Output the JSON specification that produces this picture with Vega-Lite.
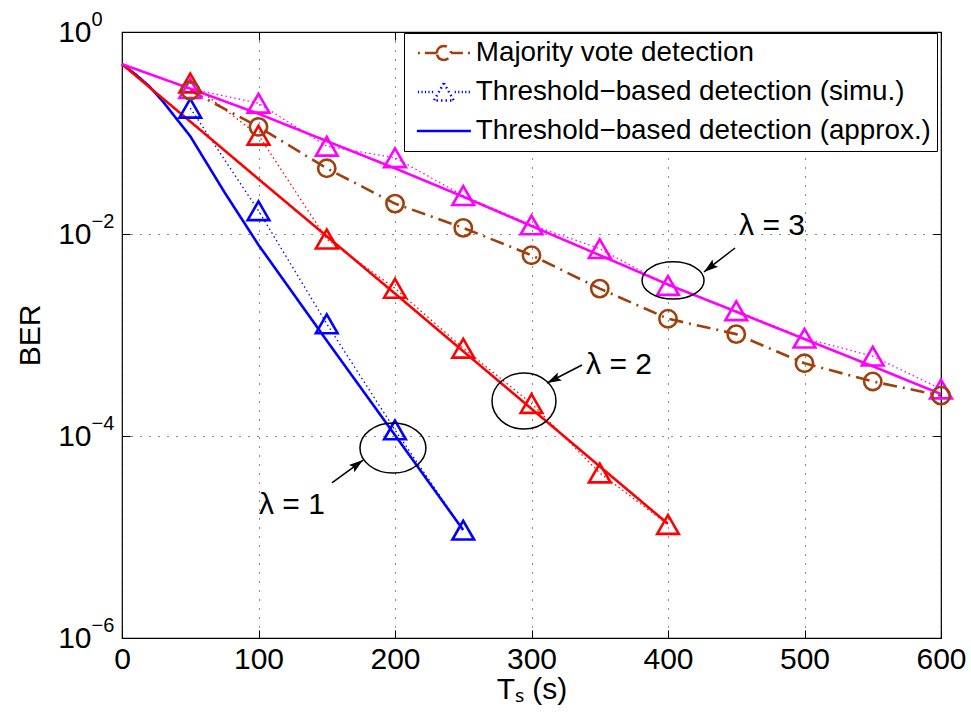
{
  "$schema": "https://vega.github.io/schema/vega-lite/v6.json",
  "width": 819,
  "height": 606,
  "autosize": "none",
  "padding": {"left": 122, "top": 32, "right": 30, "bottom": 86},
  "background": "white",
  "config": {
    "font": "Liberation Sans",
    "view": {"stroke": "black", "strokeWidth": 1.2},
    "text": {"font": "Liberation Sans"}
  },
  "datasets": {
    "curves": [
      {"T": 50, "ber": 0.263, "lam": "maj", "method": "maj"},
      {"T": 100, "ber": 0.115, "lam": "maj", "method": "maj"},
      {"T": 150, "ber": 0.0447, "lam": "maj", "method": "maj"},
      {"T": 200, "ber": 0.02, "lam": "maj", "method": "maj"},
      {"T": 250, "ber": 0.0115, "lam": "maj", "method": "maj"},
      {"T": 300, "ber": 0.00617, "lam": "maj", "method": "maj"},
      {"T": 350, "ber": 0.00288, "lam": "maj", "method": "maj"},
      {"T": 400, "ber": 0.00145, "lam": "maj", "method": "maj"},
      {"T": 450, "ber": 0.00102, "lam": "maj", "method": "maj"},
      {"T": 500, "ber": 0.000525, "lam": "maj", "method": "maj"},
      {"T": 550, "ber": 0.000347, "lam": "maj", "method": "maj"},
      {"T": 600, "ber": 0.000251, "lam": "maj", "method": "maj"},

      {"T": 50, "ber": 0.176, "lam": "1", "method": "simu"},
      {"T": 100, "ber": 0.017, "lam": "1", "method": "simu"},
      {"T": 150, "ber": 0.00129, "lam": "1", "method": "simu"},
      {"T": 200, "ber": 0.000115, "lam": "1", "method": "simu"},
      {"T": 250, "ber": 0.0000117, "lam": "1", "method": "simu"},

      {"T": 50, "ber": 0.313, "lam": "2", "method": "simu"},
      {"T": 100, "ber": 0.095, "lam": "2", "method": "simu"},
      {"T": 150, "ber": 0.0089, "lam": "2", "method": "simu"},
      {"T": 200, "ber": 0.0029, "lam": "2", "method": "simu"},
      {"T": 250, "ber": 0.00074, "lam": "2", "method": "simu"},
      {"T": 300, "ber": 0.00021, "lam": "2", "method": "simu"},
      {"T": 350, "ber": 0.000043, "lam": "2", "method": "simu"},
      {"T": 400, "ber": 0.0000133, "lam": "2", "method": "simu"},

      {"T": 50, "ber": 0.275, "lam": "3", "method": "simu"},
      {"T": 100, "ber": 0.197, "lam": "3", "method": "simu"},
      {"T": 150, "ber": 0.074, "lam": "3", "method": "simu"},
      {"T": 200, "ber": 0.0569, "lam": "3", "method": "simu"},
      {"T": 250, "ber": 0.024, "lam": "3", "method": "simu"},
      {"T": 300, "ber": 0.0123, "lam": "3", "method": "simu"},
      {"T": 350, "ber": 0.00716, "lam": "3", "method": "simu"},
      {"T": 400, "ber": 0.00309, "lam": "3", "method": "simu"},
      {"T": 450, "ber": 0.00174, "lam": "3", "method": "simu"},
      {"T": 500, "ber": 0.00093, "lam": "3", "method": "simu"},
      {"T": 550, "ber": 0.000617, "lam": "3", "method": "simu"},
      {"T": 600, "ber": 0.000292, "lam": "3", "method": "simu"},

      {"T": 0, "ber": 0.48, "lam": "1", "method": "approx"},
      {"T": 10, "ber": 0.38, "lam": "1", "method": "approx"},
      {"T": 20, "ber": 0.29, "lam": "1", "method": "approx"},
      {"T": 30, "ber": 0.205, "lam": "1", "method": "approx"},
      {"T": 40, "ber": 0.138, "lam": "1", "method": "approx"},
      {"T": 50, "ber": 0.093, "lam": "1", "method": "approx"},
      {"T": 75, "ber": 0.026, "lam": "1", "method": "approx"},
      {"T": 100, "ber": 0.0078, "lam": "1", "method": "approx"},
      {"T": 150, "ber": 0.00088, "lam": "1", "method": "approx"},
      {"T": 200, "ber": 0.000102, "lam": "1", "method": "approx"},
      {"T": 250, "ber": 0.0000117, "lam": "1", "method": "approx"},

      {"T": 0, "ber": 0.48, "lam": "2", "method": "approx"},
      {"T": 50, "ber": 0.13, "lam": "2", "method": "approx"},
      {"T": 100, "ber": 0.035, "lam": "2", "method": "approx"},
      {"T": 150, "ber": 0.0095, "lam": "2", "method": "approx"},
      {"T": 200, "ber": 0.00257, "lam": "2", "method": "approx"},
      {"T": 250, "ber": 0.00069, "lam": "2", "method": "approx"},
      {"T": 300, "ber": 0.000186, "lam": "2", "method": "approx"},
      {"T": 350, "ber": 0.00005, "lam": "2", "method": "approx"},
      {"T": 400, "ber": 0.0000135, "lam": "2", "method": "approx"},

      {"T": 0, "ber": 0.48, "lam": "3", "method": "approx"},
      {"T": 50, "ber": 0.275, "lam": "3", "method": "approx"},
      {"T": 100, "ber": 0.155, "lam": "3", "method": "approx"},
      {"T": 150, "ber": 0.0832, "lam": "3", "method": "approx"},
      {"T": 200, "ber": 0.0447, "lam": "3", "method": "approx"},
      {"T": 250, "ber": 0.0234, "lam": "3", "method": "approx"},
      {"T": 300, "ber": 0.012, "lam": "3", "method": "approx"},
      {"T": 350, "ber": 0.00617, "lam": "3", "method": "approx"},
      {"T": 400, "ber": 0.00316, "lam": "3", "method": "approx"},
      {"T": 450, "ber": 0.0017, "lam": "3", "method": "approx"},
      {"T": 500, "ber": 0.000912, "lam": "3", "method": "approx"},
      {"T": 550, "ber": 0.00049, "lam": "3", "method": "approx"},
      {"T": 600, "ber": 0.00026, "lam": "3", "method": "approx"}
    ],
    "rings": [
      {"T": 198.5, "ber": 0.000076, "lam": "1"},
      {"T": 294.5, "ber": 0.000222, "lam": "2"},
      {"T": 403.7, "ber": 0.00347, "lam": "3"}
    ],
    "arrows": [
      {"T": 153.8, "ber": 0.0000343, "T2": 176.6, "ber2": 0.0000578, "lam": "1"},
      {"T": 337.0, "ber": 0.000505, "T2": 311.4, "ber2": 0.000335, "lam": "2"},
      {"T": 449.1, "ber": 0.00727, "T2": 426.4, "ber2": 0.00421, "lam": "3"}
    ],
    "notes": [
      {"T": 124.5, "ber": 0.0000207, "label": "λ = 1"},
      {"T": 364.1, "ber": 0.000505, "label": "λ = 2"},
      {"T": 476.2, "ber": 0.012, "label": "λ = 3"}
    ]
  },
  "resolve": {"axis": {"x": "independent", "y": "independent"}},
  "layer": [
    {
      "data": {"name": "curves"},
      "mark": {"type": "line", "strokeCap": "butt", "strokeJoin": "round"},
      "encoding": {
        "x": {
          "field": "T", "type": "quantitative",
          "scale": {"domain": [0, 600], "nice": false, "zero": false},
          "axis": {
            "orient": "bottom", "values": [0, 100, 200, 300, 400, 500, 600],
            "grid": true, "gridColor": "#000", "gridDash": [1, 8], "gridWidth": 1, "gridOpacity": 0.9,
            "domain": false, "ticks": true, "tickSize": -8, "tickColor": "#000", "tickWidth": 1,
            "labelFontSize": 30, "labelColor": "#000", "labelPadding": 14, "labelFlush": false, "labelOverlap": false,
            "title": "Tₛ (s)", "titleFontSize": 30, "titleFontWeight": "normal", "titleColor": "#000", "titlePadding": 0
          }
        },
        "y": {
          "field": "ber", "type": "quantitative",
          "scale": {"type": "log", "domain": [0.000001, 1], "nice": false},
          "axis": {
            "orient": "left", "values": [1, 0.01, 0.0001, 0.000001],
            "grid": true, "gridColor": "#000", "gridDash": [1, 8], "gridWidth": 1, "gridOpacity": 0.9,
            "domain": false, "ticks": true, "tickSize": -8, "tickColor": "#000", "tickWidth": 1,
            "labelExpr": "'10'",
            "labelFontSize": 30, "labelColor": "#000", "labelPadding": 39, "labelAlign": "right", "labelBaseline": "middle", "labelFlush": false, "labelOverlap": false,
            "title": "BER", "titleFontSize": 30, "titleFontWeight": "normal", "titleColor": "#000", "titlePadding": 12
          }
        },
        "color": {
          "field": "lam", "type": "nominal",
          "scale": {"domain": ["maj", "1", "2", "3"], "range": ["#a0400d", "#0000ff", "#ff0000", "#ff00ff"]},
          "legend": null
        },
        "strokeWidth": {"condition": {"test": "datum.method === 'simu'", "value": 1.3}, "value": 2.6},
        "strokeDash": {
          "field": "method", "type": "nominal",
          "scale": {"domain": ["maj", "simu", "approx"], "range": [[14, 6, 2, 6], [1.5, 3], [1, 0]]},
          "legend": {
            "title": null,
            "orient": "none", "legendX": 282, "legendY": 1,
            "strokeColor": "#000", "fillColor": "white", "padding": 6, "cornerRadius": 0,
            "labelFont": "Liberation Sans", "labelFontSize": 27.8, "labelColor": "#000", "labelLimit": 700,
            "labelExpr": "datum.value === 'maj' ? 'Majority vote detection' : datum.value === 'simu' ? 'Threshold−based detection (simu.)' : 'Threshold−based detection (approx.)'",
            "symbolSize": 400, "symbolOffset": 20, "labelOffset": 18, "rowPadding": 10,
            "symbolStrokeWidth": 2.5,
            "encode": {
              "symbols": {
                "update": {
                  "shape": [
                    {"test": "datum.value === 'maj'", "value": "M-2.6,0H-2.4M-1.9,0H-0.7M0.7,0H1.9M2.4,0H2.6M-0.7,0A0.7,0.7 0 0,1 0,-0.7A0.7,0.7 0 0,1 0.7,0A0.7,0.7 0 0,1 0,0.7A0.7,0.7 0 0,1 -0.7,0Z"},
                    {"test": "datum.value === 'simu'", "value": "M-2.6,0h0.12M-2.25,0h0.12M-1.9,0h0.12M-1.55,0h0.12M-1.2,0h0.12M1.08,0h0.12M1.43,0h0.12M1.78,0h0.12M2.13,0h0.12M2.48,0h0.12M0,-0.87L1,0.87L-1,0.87Z"},
                    {"value": "M-2.7,0H2.7"}
                  ],
                  "stroke": [
                    {"test": "datum.value === 'maj'", "value": "#a0400d"},
                    {"value": "#0000ff"}
                  ],
                  "fill": {"value": "transparent"},
                  "strokeDash": {"value": [1, 0]},
                  "strokeWidth": {"value": 2.5},
                  "opacity": {"value": 1}
                }
              }
            }
          }
        }
      }
    },
    {
      "data": {"name": "curves"},
      "transform": [{"filter": "datum.method === 'simu'"}],
      "mark": {"type": "point", "shape": "triangle-up", "filled": false, "size": 470, "strokeWidth": 2.6, "opacity": 1},
      "encoding": {
        "x": {"field": "T", "type": "quantitative", "axis": null},
        "y": {
          "field": "ber", "type": "quantitative",
          "axis": {
            "orient": "left", "values": [1, 0.01, 0.0001, 0.000001],
            "grid": false, "domain": false, "ticks": false,
            "labelExpr": "datum.value >= 0.5 ? '0' : datum.value >= 0.005 ? '−2' : datum.value >= 0.00005 ? '−4' : '−6'",
            "labelFontSize": 20, "labelColor": "#000", "labelPadding": 31, "labelAlign": "left", "labelBaseline": "middle",
            "labelOffset": -13, "labelFlush": false, "labelOverlap": false, "title": null
          }
        },
        "color": {"field": "lam", "type": "nominal", "legend": null}
      }
    },
    {
      "data": {"name": "curves"},
      "transform": [{"filter": "datum.method === 'maj'"}],
      "mark": {"type": "point", "shape": "circle", "filled": false, "size": 300, "strokeWidth": 2.6, "opacity": 1},
      "encoding": {
        "x": {"field": "T", "type": "quantitative", "axis": null},
        "y": {"field": "ber", "type": "quantitative", "axis": null},
        "color": {"field": "lam", "type": "nominal", "legend": null}
      }
    },
    {
      "data": {"name": "rings"},
      "mark": {"type": "point", "filled": false, "color": "#000", "strokeWidth": 1.5, "opacity": 1},
      "encoding": {
        "x": {
          "field": "T", "type": "quantitative",
          "axis": {"orient": "top", "values": [0, 100, 200, 300, 400, 500, 600], "labels": false, "grid": false, "domain": false, "tickSize": -8, "tickColor": "#000", "title": null}
        },
        "y": {
          "field": "ber", "type": "quantitative",
          "axis": {"orient": "right", "values": [1, 0.01, 0.0001, 0.000001], "labels": false, "grid": false, "domain": false, "tickSize": -8, "tickColor": "#000", "title": null}
        },
        "shape": {
          "condition": [
            {"test": "datum.lam === '1'", "value": "M-1,0A1,0.76 0 1,1 1,0A1,0.76 0 1,1 -1,0"},
            {"test": "datum.lam === '2'", "value": "M-1,0A1,0.875 0 1,1 1,0A1,0.875 0 1,1 -1,0"}
          ],
          "value": "M-1,0A1,0.6 0 1,1 1,0A1,0.6 0 1,1 -1,0"
        },
        "size": {
          "condition": [
            {"test": "datum.lam === '1'", "value": 4356},
            {"test": "datum.lam === '2'", "value": 4096}
          ],
          "value": 3844
        }
      }
    },
    {
      "data": {"name": "arrows"},
      "mark": {"type": "rule", "color": "#000", "strokeWidth": 1.5},
      "encoding": {
        "x": {"field": "T", "type": "quantitative", "axis": null},
        "y": {"field": "ber", "type": "quantitative", "axis": null},
        "x2": {"field": "T2"},
        "y2": {"field": "ber2"}
      }
    },
    {
      "data": {"name": "arrows"},
      "mark": {"type": "point", "filled": true, "color": "#000", "opacity": 1, "size": 320, "shape": "M0,0L-0.5,1.6L0,1.3L0.5,1.6Z"},
      "encoding": {
        "x": {"field": "T2", "type": "quantitative", "axis": null},
        "y": {"field": "ber2", "type": "quantitative", "axis": null},
        "angle": {
          "condition": [
            {"test": "datum.lam === '1'", "value": 53},
            {"test": "datum.lam === '2'", "value": 243}
          ],
          "value": 232
        }
      }
    },
    {
      "data": {"name": "notes"},
      "mark": {"type": "text", "fontSize": 30, "color": "#000", "align": "center", "baseline": "middle"},
      "encoding": {
        "x": {"field": "T", "type": "quantitative", "axis": null},
        "y": {"field": "ber", "type": "quantitative", "axis": null},
        "text": {"field": "label"}
      }
    }
  ]
}
